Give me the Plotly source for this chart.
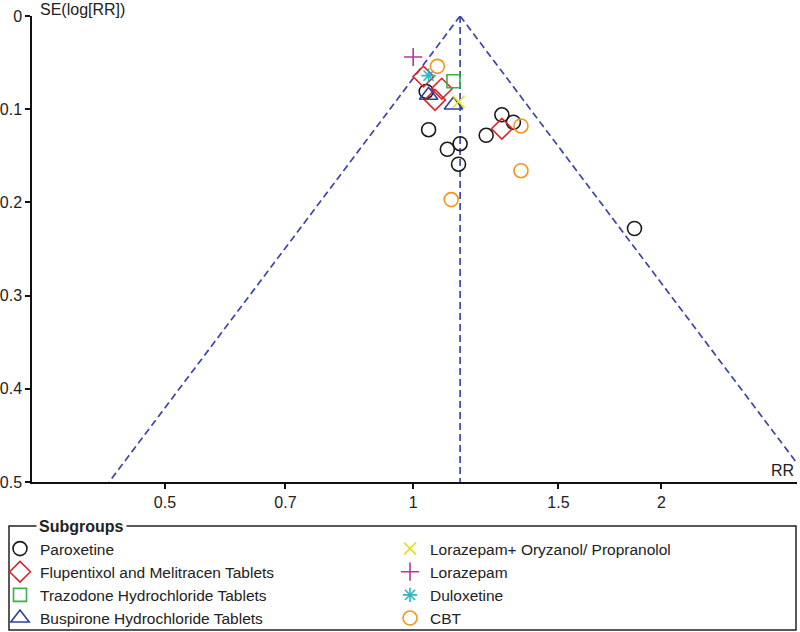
import numpy as np
import plotly.graph_objects as go

# ---- data ----
subgroups = ["Paroxetine", "Flupentixol and Melitracen Tablets", "Trazodone Hydrochloride Tablets",
             "Buspirone Hydrochloride Tablets", "Lorazepam+ Oryzanol/ Propranolol", "Lorazepam",
             "Duloxetine", "CBT"]

paroxetine_rr = [1.037, 1.044, 1.100, 1.140, 1.135, 1.281, 1.323, 1.226, 1.855]
paroxetine_se = [0.081, 0.122, 0.143, 0.137, 0.159, 0.106, 0.114, 0.128, 0.228]
flupentixol_rr = [1.029, 1.083, 1.063, 1.281]
flupentixol_se = [0.065, 0.078, 0.090, 0.121]
trazodone_rr = [1.119]
trazodone_se = [0.070]
buspirone_rr = [1.044, 1.119]
buspirone_se = [0.085, 0.0955]
lorazepam_ory_rr = [1.135]
lorazepam_ory_se = [0.092]
lorazepam_rr = [1.000]
lorazepam_se = [0.044]
duloxetine_rr = [1.044]
duloxetine_se = [0.064]
cbt_rr = [1.070, 1.351, 1.351, 1.112]
cbt_se = [0.054, 0.118, 0.166, 0.197]

pooled_rr = 1.14
funnel_se = [0.0, 0.5]

x_tickvals = [0.5, 0.7, 1, 1.5, 2]
x_ticktext = ["0.5", "0.7", "1", "1.5", "2"]
y_tickvals = [0, 0.1, 0.2, 0.3, 0.4, 0.5]
y_ticktext = ["0", "0.1", "0.2", "0.3", "0.4", "0.5"]

# ---- layout geometry (pixels) ----
W, H = 800, 632
L, R, T, B = 32, 3, 16, 150
PW, PH = W - L - R, H - T - B


def px(x):
    return (x - L) / PW


def py(y):
    return (H - B - y) / PH


FONT = "Liberation Sans, Arial, sans-serif"
fig = go.Figure()

# funnel lines
dash_col = "#3d46a6"
se = np.array(funnel_se)
for xs in (pooled_rr * np.exp(-1.96 * se), pooled_rr * np.exp(1.96 * se), [pooled_rr, pooled_rr]):
    fig.add_trace(go.Scatter(x=list(xs), y=list(se), mode="lines",
                             line=dict(color=dash_col, width=1.7, dash="7px,4px"),
                             showlegend=False, hoverinfo="skip"))

series = [
    (paroxetine_rr, paroxetine_se, "circle-open", "#1a1a1a", 14, "legend"),
    (flupentixol_rr, flupentixol_se, "diamond-open", "#d9262b", 16, "legend"),
    (trazodone_rr, trazodone_se, "square-open", "#3cb043", 13, "legend"),
    (buspirone_rr, buspirone_se, "triangle-up-open", "#3040a0", 16, "legend"),
    (lorazepam_ory_rr, lorazepam_ory_se, "x-thin-open", "#e2e21a", 12, "legend2"),
    (lorazepam_rr, lorazepam_se, "cross-thin-open", "#b8369e", 13, "legend2"),
    (duloxetine_rr, duloxetine_se, "asterisk-open", "#2bb7c4", 12, "legend2"),
    (cbt_rr, cbt_se, "circle-open", "#f7941d", 14, "legend2"),
]
for name, (xs, ys, sym, col, sz, lg) in zip(subgroups, series):
    fig.add_trace(go.Scatter(x=xs, y=ys, mode="markers", name=name, legend=lg,
                             marker=dict(symbol=sym, size=sz, color=col,
                                         line=dict(color=col, width=1.6))))

LEG_FONT = dict(size=15.5, color="#222")
fig.update_layout(
    width=W, height=H,
    margin=dict(l=L, r=R, t=T, b=B, autoexpand=False),
    paper_bgcolor="white", plot_bgcolor="white",
    font=dict(family=FONT, size=16, color="#222"),
    xaxis=dict(type="log", range=[np.log10(0.345), np.log10(2.92)],
               tickvals=x_tickvals, ticktext=x_ticktext, automargin=False,
               showline=True, linecolor="#111", linewidth=1.5,
               ticks="outside", ticklen=5, tickcolor="#111", tickwidth=1.5,
               showgrid=False, zeroline=False, tickfont=dict(size=16)),
    yaxis=dict(range=[0.5, 0], tickvals=y_tickvals, ticktext=y_ticktext, automargin=False,
               showline=True, linecolor="#111", linewidth=1.5,
               ticks="outside", ticklen=5, tickcolor="#111", tickwidth=1.5,
               showgrid=False, zeroline=False, tickfont=dict(size=16)),
    legend=dict(x=px(0), y=py(532), xanchor="left", yanchor="top",
                bgcolor="rgba(0,0,0,0)", font=LEG_FONT, tracegroupgap=0),
    legend2=dict(x=px(390), y=py(532), xanchor="left", yanchor="top",
                 bgcolor="rgba(0,0,0,0)", font=LEG_FONT, tracegroupgap=0),
    showlegend=True,
)

# legend frame and title
fig.add_shape(type="rect", xref="paper", yref="paper",
              x0=px(9), x1=px(796), y0=py(630), y1=py(526),
              line=dict(color="#222", width=1.5), fillcolor="rgba(0,0,0,0)")
fig.add_annotation(xref="paper", yref="paper", x=px(36), y=py(526), xanchor="left",
                   yanchor="middle", text="<b>Subgroups</b>", showarrow=False,
                   bgcolor="white", borderpad=2, font=dict(size=16, color="#222"))
# axis titles
fig.add_annotation(xref="paper", yref="paper", x=px(38), y=py(10), xanchor="left",
                   yanchor="middle", text="SE(log[RR])", showarrow=False,
                   font=dict(size=16, color="#222"))
fig.add_annotation(xref="paper", yref="paper", x=px(782), y=py(470), xanchor="center",
                   yanchor="middle", text="RR", showarrow=False,
                   font=dict(size=16, color="#222"))

fig.write_html("out.html", config={"displayModeBar": False},
               post_script="document.body.style.margin='0';")
